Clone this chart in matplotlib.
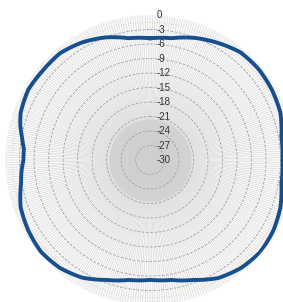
import matplotlib.pyplot as plt
import matplotlib.transforms as mtransforms
import numpy as np

# angles clockwise from north (deg) and gain (dB)
angles_deg = [0, 10, 20, 30, 40, 50, 60, 70, 80, 90, 100, 110, 120, 130, 140,
              150, 160, 170, 180, 190, 200, 210, 220, 230, 240, 250, 260, 265,
              270, 275, 280, 285, 290, 300, 310, 320, 330, 340, 350, 360]
gain_db = [-4.8, -4.4, -3.1, -2.0, -0.9, -0.7, -0.9, -1.3, -2.4, -2.6, -2.4, -1.3,
           -0.6, -0.3, -0.8, -1.8, -3.6, -4.8, -5.2, -4.8, -3.6, -1.9, -0.9, -0.5,
           -0.9, -1.5, -2.9, -3.3, -3.8, -3.8, -3.1, -2.2, -1.5, -0.9, -1.1, -1.1,
           -1.9, -3.0, -4.4, -4.8]
ring_labels = [0, -3, -6, -9, -12, -15, -18, -21, -24, -27, -30]

fig = plt.figure(figsize=(2.83, 3.02), dpi=100)
ax = fig.add_axes([0.0177, -0.0099, 1.025, 0.960], projection="polar")
ax.set_theta_zero_location("N")
ax.set_theta_direction(-1)
ax.set_ylim(-30, 0)
ax.set_facecolor("#fafafa")
ax.grid(False)
ax.set_xticks([])
ax.set_yticks([])
ax.spines["polar"].set_visible(False)

# grey core where the radial lines crowd together
theta_full = np.linspace(0, 2 * np.pi, 400)
ax.fill_between(theta_full, -30, -21.5, color="#dadada", lw=0, zorder=0.5)

# dense radial grid
for a in np.arange(0, 360, 1.0):
    t = np.deg2rad(a)
    ax.plot([t, t], [-30, 0], color="#cfcfcf", lw=0.35, zorder=1)

# concentric rings
for r in ring_labels[1:]:
    ax.plot(theta_full, np.full_like(theta_full, r), color="#a0a0a0",
            lw=0.6, ls=(0, (3, 2)), zorder=2)
ax.plot(theta_full, np.full_like(theta_full, -1.5), color="#f0c8a8",
        lw=0.6, ls=(0, (1, 2)), zorder=2)

theta = np.deg2rad(angles_deg)
line, = ax.plot(theta, gain_db, color="#164f8f", lw=2.8, zorder=5,
                solid_joinstyle="round")
line.get_path()._interpolation_steps = 20

offset = mtransforms.offset_copy(ax.transData, fig=fig, x=5, y=0, units="points")
for r in ring_labels:
    ax.text(0, r, str(r), transform=offset, ha="left", va="center",
            fontsize=7, family="Liberation Sans", color="#333333", zorder=6)

fig.savefig("out.png", dpi=100)
